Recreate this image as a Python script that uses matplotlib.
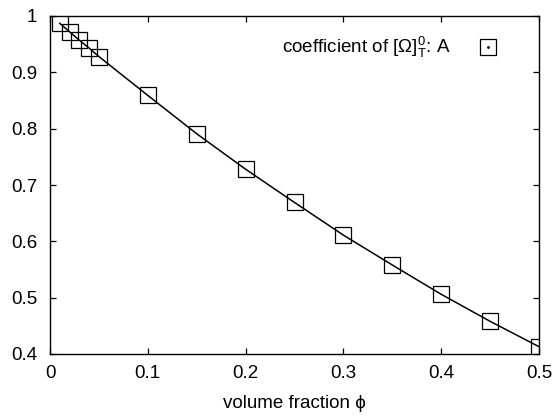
import matplotlib
matplotlib.use("Agg")
import matplotlib.pyplot as plt
from matplotlib.ticker import FuncFormatter

phi = [0.01, 0.02, 0.03, 0.04, 0.05, 0.10, 0.15, 0.20, 0.25, 0.30, 0.35, 0.40, 0.45, 0.50]
coef_a = [0.987, 0.972, 0.957, 0.943, 0.928, 0.859, 0.791, 0.728, 0.669, 0.611, 0.558, 0.506, 0.458, 0.413]

x_ticks = [0, 0.1, 0.2, 0.3, 0.4, 0.5]
y_ticks = [0.4, 0.5, 0.6, 0.7, 0.8, 0.9, 1.0]

plt.rcParams["font.family"] = ["Liberation Sans", "DejaVu Sans"]
plt.rcParams["mathtext.fontset"] = "custom"
plt.rcParams["mathtext.rm"] = "Liberation Sans"
plt.rcParams["mathtext.it"] = "Liberation Sans"

FS = 13.5


def short_num(v, _pos=None):
    s = f"{v:.1f}"
    return "1" if s == "1.0" else ("0" if s == "0.0" else s)


fig = plt.figure(figsize=(5.58, 4.18), dpi=100)
ax = fig.add_axes([50 / 558, 1 - 354 / 418, 489 / 558, 338 / 418])

ax.plot(phi, coef_a, color="black", lw=1.1)
ax.plot(phi, coef_a, ls="none", marker="s", ms=11.5, mfc="none",
        mec="black", mew=0.9)

ax.set_xlim(0, 0.5)
ax.set_ylim(0.4, 1.0)
ax.set_xticks(x_ticks)
ax.set_yticks(y_ticks)
ax.xaxis.set_major_formatter(FuncFormatter(short_num))
ax.yaxis.set_major_formatter(FuncFormatter(short_num))
ax.tick_params(direction="in", top=True, right=True, length=4.5, width=0.9,
               labelsize=FS)
ax.tick_params(axis="y", pad=9)
ax.tick_params(axis="x", pad=8)
for sp in ax.spines.values():
    sp.set_linewidth(1.0)

ax.set_xlabel("volume fraction ϕ", fontsize=FS, labelpad=9)

# legend, gnuplot style: text right-aligned then the key symbol
ax.text(0.818, 0.908, r"coefficient of $[\Omega]_\mathrm{T}^0$: A",
        transform=ax.transAxes, ha="right", va="center", fontsize=FS)
ax.plot([0.8957], [0.908], transform=ax.transAxes, marker="s", ms=11.5,
        mfc="none", mec="black", mew=0.9, clip_on=False)
ax.plot([0.8957], [0.908], transform=ax.transAxes, marker=".", ms=2,
        color="black", clip_on=False)

fig.savefig("out.png", dpi=100)
